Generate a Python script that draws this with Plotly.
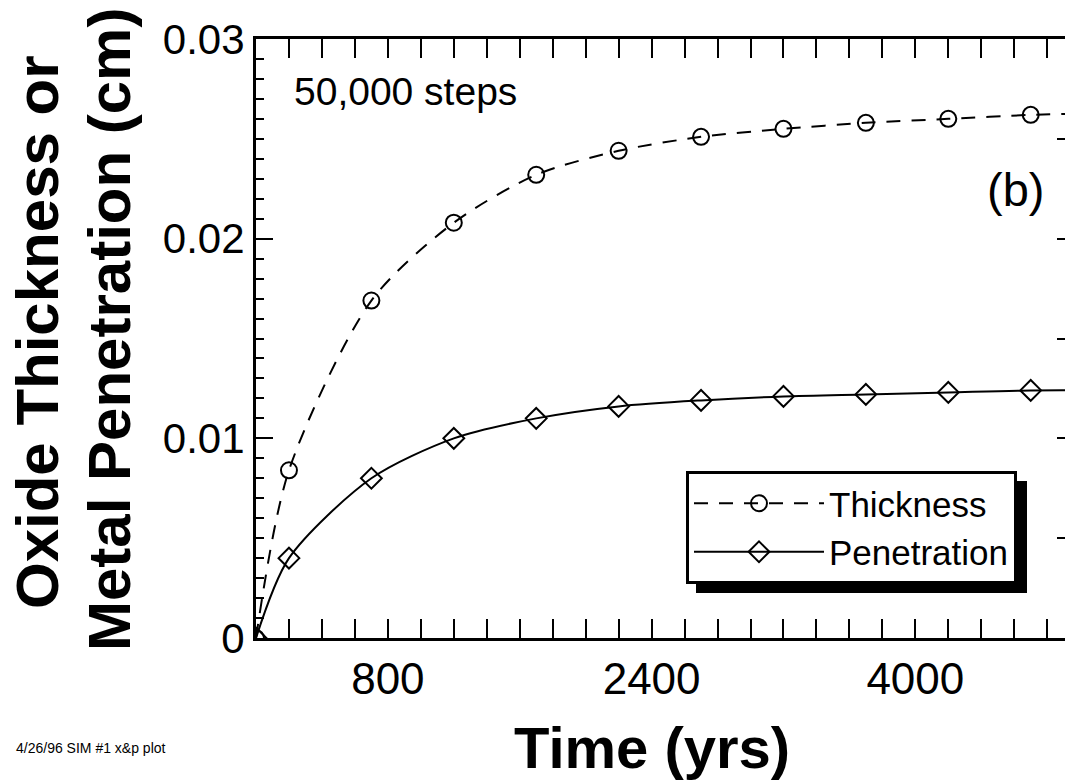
import plotly.graph_objects as go

# ---- data ----
time_yrs = [0, 200, 700, 1200, 1700, 2200, 2700, 3200, 3700, 4200, 4700, 5200]
thickness = [0.0, 0.0084, 0.0169, 0.0208, 0.0232, 0.0244, 0.0251, 0.0255, 0.0258, 0.0260, 0.0262, 0.0263]
penetration = [0.0, 0.0040, 0.0080, 0.0100, 0.0110, 0.0116, 0.0119, 0.0121, 0.0122, 0.0123, 0.0124, 0.0124]

x_tickvals = [0, 800, 1600, 2400, 3200, 4000, 4800]
x_ticktext = ["", "800", "", "2400", "", "4000", ""]
y_tickvals = [0, 0.01, 0.02, 0.03]
y_ticktext = ["0", "0.01", "0.02", "0.03"]
y_right_ticks = [0.005, 0.01, 0.015, 0.02, 0.025]

FONT = "Arial, Liberation Sans, Helvetica, sans-serif"

fig = go.Figure()
fig.add_trace(go.Scatter(
    x=time_yrs, y=thickness, name="Thickness", mode="lines+markers",
    line=dict(color="black", width=2, dash="14px,11px", shape="spline", smoothing=0.8),
    marker=dict(symbol="circle-open", size=16, color="black", line=dict(width=2, color="black")),
))
fig.add_trace(go.Scatter(
    x=time_yrs, y=penetration, name="Penetration", mode="lines+markers",
    line=dict(color="black", width=2, shape="spline", smoothing=0.8),
    marker=dict(symbol="diamond-open", size=16, color="black", line=dict(width=2, color="black")),
))
# invisible trace to carry the right-hand tick axis
fig.add_trace(go.Scatter(x=[None], y=[None], yaxis="y2", showlegend=False, hoverinfo="skip"))

W, H = 1065, 782
L, R, T, B = 256, 0, 39, 144

fig.update_layout(
    width=W, height=H,
    margin=dict(l=L, r=R, t=T, b=B, pad=0),
    paper_bgcolor="white", plot_bgcolor="white",
    font=dict(family=FONT, color="black"),
    showlegend=True,
    legend=dict(
        x=(686 - L) / (W - L - R), y=(H - B - 471) / (H - B - T),
        xanchor="left", yanchor="top",
        bgcolor="white", bordercolor="black", borderwidth=3,
        font=dict(size=35, family=FONT, color="black"),
        itemwidth=130, tracegroupgap=0,
    ),
    xaxis=dict(
        range=[0, 4908], showgrid=False, zeroline=False,
        showline=True, linecolor="black", linewidth=3, mirror="allticks",
        ticks="inside", ticklen=19, tickwidth=2, tickcolor="black",
        tickvals=x_tickvals, ticktext=x_ticktext,
        tickfont=dict(size=44, family=FONT, color="black"),
        minor=dict(dtick=200, tick0=0, ticks="inside", ticklen=9, tickwidth=2, tickcolor="black"),
    ),
    yaxis=dict(
        range=[0, 0.03], showgrid=False, zeroline=False,
        showline=True, linecolor="black", linewidth=3, mirror=False,
        ticks="inside", ticklen=17, tickwidth=2, tickcolor="black",
        tickvals=y_tickvals, ticktext=y_ticktext,
        tickfont=dict(size=42, family=FONT, color="black"),
        minor=dict(dtick=0.001, tick0=0, ticks="inside", ticklen=8, tickwidth=2, tickcolor="black"),
    ),
    yaxis2=dict(
        range=[0, 0.03], overlaying="y", side="right", anchor="x",
        showgrid=False, zeroline=False, showline=False, showticklabels=False,
        ticks="inside", ticklen=8, tickwidth=2, tickcolor="black", tickvals=y_right_ticks,
    ),
)

pw = W - L - R
ph = H - B - T
def px(xpix):
    return (xpix - L) / pw
def py(ypix):
    return (H - B - ypix) / ph

# legend drop shadow
fig.add_shape(type="rect", xref="paper", yref="paper",
              x0=px(696), x1=px(1027), y0=py(593), y1=py(481),
              fillcolor="black", line=dict(width=0), layer="above")

annotations = [
    dict(text="50,000 steps", x=px(292), y=py(92), xanchor="left", yanchor="middle",
         font=dict(size=39, family=FONT, color="black")),
    dict(text="(b)", x=px(1015), y=py(189), xanchor="center", yanchor="middle",
         font=dict(size=47, family=FONT, color="black")),
    dict(text="<b>Oxide Thickness or</b>", x=px(37), y=py(332),
         xanchor="center", yanchor="middle", textangle=-90,
         font=dict(size=60, family=FONT, color="black")),
    dict(text="<b>Metal Penetration (cm)</b>", x=px(110), y=py(330),
         xanchor="center", yanchor="middle", textangle=-90,
         font=dict(size=60, family=FONT, color="black")),
    dict(text="<b>Time (yrs)</b>", x=px(652), y=py(747), xanchor="center", yanchor="middle",
         font=dict(size=58, family=FONT, color="black")),
    dict(text="4/26/96 SIM #1 x&p plot", x=px(14), y=py(748), xanchor="left", yanchor="middle",
         font=dict(size=14, family=FONT, color="black")),
]
for a in annotations:
    a.update(xref="paper", yref="paper", showarrow=False)
    fig.add_annotation(**a)

fig.write_html("out.html")
